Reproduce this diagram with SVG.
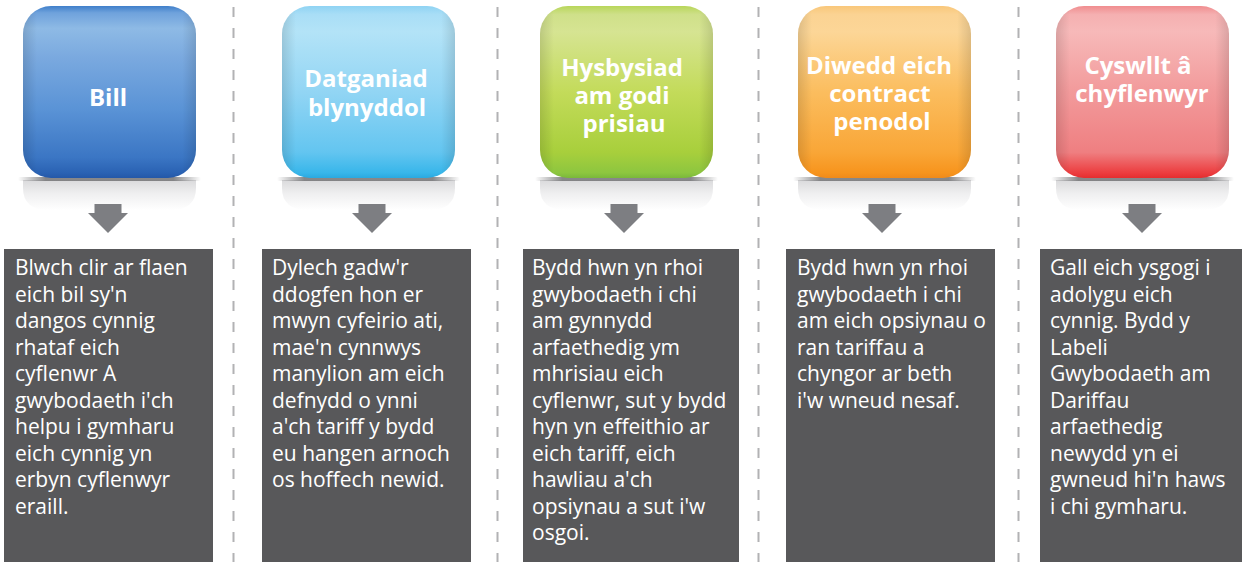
<svg xmlns="http://www.w3.org/2000/svg" width="1242" height="562" viewBox="0 0 1242 562">
<defs>
<linearGradient id="gBlue" x1="0" y1="0" x2="0" y2="1">
<stop offset="0" stop-color="#3f7fca"/><stop offset="0.04" stop-color="#6fa2dc"/><stop offset="0.13" stop-color="#8ebae5"/><stop offset="0.3" stop-color="#7aa9df"/><stop offset="0.6" stop-color="#5a93d6"/><stop offset="0.88" stop-color="#3b76c4"/><stop offset="0.97" stop-color="#2a62b3"/><stop offset="1" stop-color="#2458a8"/>
</linearGradient>
<linearGradient id="gCyan" x1="0" y1="0" x2="0" y2="1">
<stop offset="0" stop-color="#8fd3f3"/><stop offset="0.05" stop-color="#a9def6"/><stop offset="0.15" stop-color="#b3e3f7"/><stop offset="0.5" stop-color="#92d5f4"/><stop offset="0.85" stop-color="#63c5f0"/><stop offset="0.97" stop-color="#38b6ea"/><stop offset="1" stop-color="#2aa9e0"/>
</linearGradient>
<linearGradient id="gGreen" x1="0" y1="0" x2="0" y2="1">
<stop offset="0" stop-color="#b8d65a"/><stop offset="0.05" stop-color="#cfe08a"/><stop offset="0.15" stop-color="#d6e492"/><stop offset="0.5" stop-color="#c3db5a"/><stop offset="0.85" stop-color="#a8cf3c"/><stop offset="0.97" stop-color="#8dc63f"/><stop offset="1" stop-color="#7ab83a"/>
</linearGradient>
<linearGradient id="gOrange" x1="0" y1="0" x2="0" y2="1">
<stop offset="0" stop-color="#f9c77a"/><stop offset="0.05" stop-color="#fbd393"/><stop offset="0.15" stop-color="#fcd697"/><stop offset="0.5" stop-color="#fbbd5e"/><stop offset="0.85" stop-color="#f9a637"/><stop offset="0.97" stop-color="#f7941d"/><stop offset="1" stop-color="#f08a1a"/>
</linearGradient>
<linearGradient id="gRed" x1="0" y1="0" x2="0" y2="1">
<stop offset="0" stop-color="#f08d8f"/><stop offset="0.05" stop-color="#f5b0b1"/><stop offset="0.15" stop-color="#f7b9b9"/><stop offset="0.5" stop-color="#f29a9b"/><stop offset="0.85" stop-color="#ef7f81"/><stop offset="0.97" stop-color="#ec3d3f"/><stop offset="1" stop-color="#e52d2f"/>
</linearGradient>
<linearGradient id="gSide" x1="0" y1="0" x2="1" y2="0">
<stop offset="0" stop-color="#000" stop-opacity="0.12"/><stop offset="0.08" stop-color="#000" stop-opacity="0"/><stop offset="0.92" stop-color="#000" stop-opacity="0"/><stop offset="1" stop-color="#000" stop-opacity="0.12"/>
</linearGradient>
<linearGradient id="gRefl" x1="0" y1="0" x2="0" y2="1">
<stop offset="0" stop-color="#dadadc"/><stop offset="0.45" stop-color="#efeff0"/><stop offset="1" stop-color="#ffffff"/>
</linearGradient>
<linearGradient id="gShadow" x1="0" y1="0" x2="1" y2="0">
<stop offset="0" stop-color="#7a7a7c" stop-opacity="0"/><stop offset="0.15" stop-color="#7a7a7c" stop-opacity="0.9"/><stop offset="0.85" stop-color="#7a7a7c" stop-opacity="0.9"/><stop offset="1" stop-color="#7a7a7c" stop-opacity="0"/>
</linearGradient>
<path id="arrow" d="M-13.5,204 H13.5 V213 H20 L0,233 L-20,213 H-13.5 Z"/>
</defs>
<style>
.sep{stroke:#b2b2b4;stroke-width:2;stroke-dasharray:10 11;fill:none}
.tt{font-family:"Open Sans","Liberation Sans",sans-serif;font-weight:bold;font-size:24px;fill:#fff;text-anchor:middle}
.bt{font-family:"Open Sans","Liberation Sans",sans-serif;font-size:21px;fill:#fff}
.box{fill:#58585a}
.arr{fill:#7d7e82}
.side{fill:url(#gSide)}
.refl{fill:url(#gRefl)}
.shd{fill:url(#gShadow)}
</style>
<rect width="1242" height="562" fill="#fff"/>
<g id="separators">
<line class="sep" x1="233.5" y1="7" x2="233.5" y2="562"/>
<line class="sep" x1="497.5" y1="7" x2="497.5" y2="562"/>
<line class="sep" x1="758.5" y1="7" x2="758.5" y2="562"/>
<line class="sep" x1="1018.5" y1="7" x2="1018.5" y2="562"/>
</g>
<g id="tile-bill">
<path class="refl" d="M23,180 H196 V188 Q196,210 170,210 H49 Q23,210 23,188 Z"/>
<rect class="shd" x="18" y="177" width="183" height="4" rx="2"/>
<rect x="23" y="6" width="173" height="172" rx="28" fill="url(#gBlue)"/>
<rect class="side" x="23" y="6" width="173" height="172" rx="28"/>
<text class="tt" x="108" y="106">Bill</text>
</g>
<g id="tile-datganiad">
<path class="refl" d="M282,180 H455 V188 Q455,210 429,210 H308 Q282,210 282,188 Z"/>
<rect class="shd" x="277" y="177" width="183" height="4" rx="2"/>
<rect x="282" y="6" width="173" height="172" rx="28" fill="url(#gCyan)"/>
<rect class="side" x="282" y="6" width="173" height="172" rx="28"/>
<text class="tt" x="366" y="87">Datganiad</text>
<text class="tt" x="367" y="116">blynyddol</text>
</g>
<g id="tile-hysbysiad">
<path class="refl" d="M540,180 H713 V188 Q713,210 687,210 H566 Q540,210 540,188 Z"/>
<rect class="shd" x="535" y="177" width="183" height="4" rx="2"/>
<rect x="540" y="6" width="173" height="172" rx="28" fill="url(#gGreen)"/>
<rect class="side" x="540" y="6" width="173" height="172" rx="28"/>
<text class="tt" x="622" y="76">Hysbysiad</text>
<text class="tt" x="622" y="104">am godi</text>
<text class="tt" x="624" y="132">prisiau</text>
</g>
<g id="tile-diwedd">
<path class="refl" d="M798,180 H971 V188 Q971,210 945,210 H824 Q798,210 798,188 Z"/>
<rect class="shd" x="793" y="177" width="183" height="4" rx="2"/>
<rect x="798" y="6" width="173" height="172" rx="28" fill="url(#gOrange)"/>
<rect class="side" x="798" y="6" width="173" height="172" rx="28"/>
<text class="tt" x="879" y="74">Diwedd eich</text>
<text class="tt" x="880" y="102">contract</text>
<text class="tt" x="882" y="130">penodol</text>
</g>
<g id="tile-cyswllt">
<path class="refl" d="M1056,180 H1229 V188 Q1229,210 1203,210 H1082 Q1056,210 1056,188 Z"/>
<rect class="shd" x="1051" y="177" width="183" height="4" rx="2"/>
<rect x="1056" y="6" width="173" height="172" rx="28" fill="url(#gRed)"/>
<rect class="side" x="1056" y="6" width="173" height="172" rx="28"/>
<text class="tt" x="1138" y="74">Cyswllt â</text>
<text class="tt" x="1142" y="102">chyflenwyr</text>
</g>
<g id="connectors">
<use href="#arrow" class="arr" x="108"/>
<use href="#arrow" class="arr" x="372"/>
<use href="#arrow" class="arr" x="624"/>
<use href="#arrow" class="arr" x="882"/>
<use href="#arrow" class="arr" x="1142"/>
</g>
<g id="box-bill">
<rect class="box" x="4" y="249" width="209" height="313"/>
<text class="bt" x="15" y="275"><tspan x="15">Blwch clir ar flaen</tspan><tspan x="15" dy="26.5">eich bil sy'n</tspan><tspan x="15" dy="26.5">dangos cynnig</tspan><tspan x="15" dy="26.5">rhataf eich</tspan><tspan x="15" dy="26.5">cyflenwr A</tspan><tspan x="15" dy="26.5">gwybodaeth i'ch</tspan><tspan x="15" dy="26.5">helpu i gymharu</tspan><tspan x="15" dy="26.5">eich cynnig yn</tspan><tspan x="15" dy="26.5">erbyn cyflenwyr</tspan><tspan x="15" dy="26.5">eraill.</tspan></text>
</g>
<g id="box-datganiad">
<rect class="box" x="262" y="249" width="209" height="313"/>
<text class="bt" x="272" y="275"><tspan x="272">Dylech gadw'r</tspan><tspan x="272" dy="26.5">ddogfen hon er</tspan><tspan x="272" dy="26.5">mwyn cyfeirio ati,</tspan><tspan x="272" dy="26.5">mae'n cynnwys</tspan><tspan x="272" dy="26.5">manylion am eich</tspan><tspan x="272" dy="26.5">defnydd o ynni</tspan><tspan x="272" dy="26.5">a'ch tariff y bydd</tspan><tspan x="272" dy="26.5">eu hangen arnoch</tspan><tspan x="272" dy="26.5">os hoffech newid.</tspan></text>
</g>
<g id="box-hysbysiad">
<rect class="box" x="523" y="249" width="216" height="313"/>
<text class="bt" x="532" y="275"><tspan x="532">Bydd hwn yn rhoi</tspan><tspan x="532" dy="26.5">gwybodaeth i chi</tspan><tspan x="532" dy="26.5">am gynnydd</tspan><tspan x="532" dy="26.5">arfaethedig ym</tspan><tspan x="532" dy="26.5">mhrisiau eich</tspan><tspan x="532" dy="26.5">cyflenwr, sut y bydd</tspan><tspan x="532" dy="26.5">hyn yn effeithio ar</tspan><tspan x="532" dy="26.5">eich tariff, eich</tspan><tspan x="532" dy="26.5">hawliau a'ch</tspan><tspan x="532" dy="26.5">opsiynau a sut i'w</tspan><tspan x="532" dy="26.5">osgoi.</tspan></text>
</g>
<g id="box-diwedd">
<rect class="box" x="786" y="249" width="209" height="313"/>
<text class="bt" x="797" y="275"><tspan x="797">Bydd hwn yn rhoi</tspan><tspan x="797" dy="26.5">gwybodaeth i chi</tspan><tspan x="797" dy="26.5">am eich opsiynau o</tspan><tspan x="797" dy="26.5">ran tariffau a</tspan><tspan x="797" dy="26.5">chyngor ar beth</tspan><tspan x="797" dy="26.5">i'w wneud nesaf.</tspan></text>
</g>
<g id="box-cyswllt">
<rect class="box" x="1040" y="249" width="202" height="313"/>
<text class="bt" x="1050" y="275"><tspan x="1050">Gall eich ysgogi i</tspan><tspan x="1050" dy="26.5">adolygu eich</tspan><tspan x="1050" dy="26.5">cynnig. Bydd y</tspan><tspan x="1050" dy="26.5">Labeli</tspan><tspan x="1050" dy="26.5">Gwybodaeth am</tspan><tspan x="1050" dy="26.5">Dariffau</tspan><tspan x="1050" dy="26.5">arfaethedig</tspan><tspan x="1050" dy="26.5">newydd yn ei</tspan><tspan x="1050" dy="26.5">gwneud hi'n haws</tspan><tspan x="1050" dy="26.5">i chi gymharu.</tspan></text>
</g>
</svg>
